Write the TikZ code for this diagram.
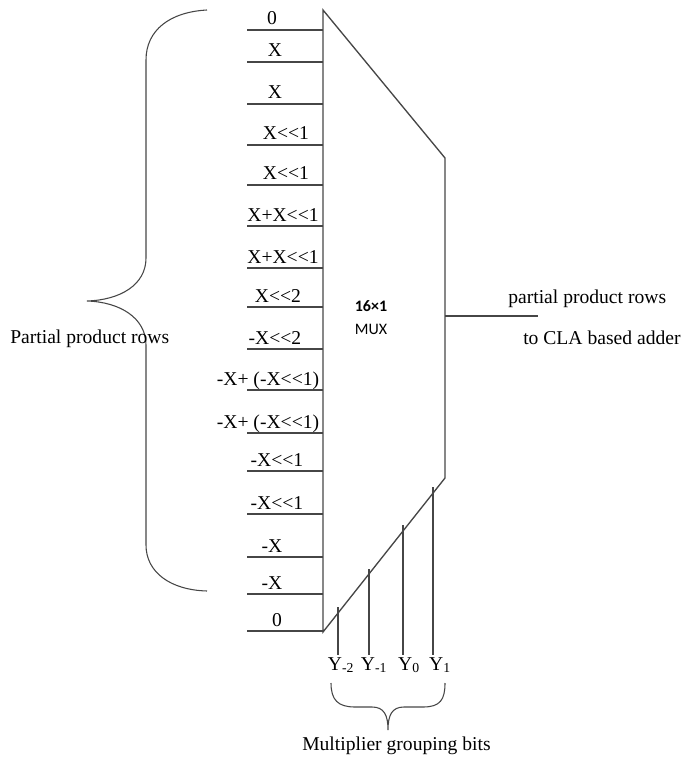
\documentclass[tikz,border=0pt]{standalone}
\usepackage{fontspec}
\setmainfont{Liberation Serif}
\newfontfamily\muxfont{Carlito}
\usepackage{tikz}
\usetikzlibrary{calc}
\definecolor{wiregray}{RGB}{70,70,70}

\begin{document}
\begin{tikzpicture}[x=0.75pt,y=-0.75pt,
        wire/.style={draw=wiregray,line width=1pt},
        bracepath/.style={draw=wiregray,line width=0.8pt},
        lbl/.style={anchor=base,inner sep=0pt,font=\fontsize{14.7}{17}\selectfont},
        sidetext/.style={anchor=base west,inner sep=0pt,font=\fontsize{14.7}{17}\selectfont}]
    \useasboundingbox (0,0) rectangle (684,759);

    % mux body
    \coordinate (muxtl) at (323,10);
    \coordinate (muxtr) at (445,158);
    \coordinate (muxbr) at (445,478);
    \coordinate (muxbl) at (323,632);
    \draw[wire] (muxtl) -- (muxtr) -- (muxbr) -- (muxbl) -- cycle;
    \node[font=\muxfont\bfseries\fontsize{12}{14}\selectfont] (muxsize) at (371,306) {16×1};
    \node[font=\muxfont\fontsize{12}{14}\selectfont] (muxname) at (371,329) {MUX};

    % partial product inputs
    \foreach \i/\yy/\xx/\txt in {1/30/272/0, 2/62/275/X, 3/104/275/X, 4/145/286/X<{}<1,
            5/185/286/X<{}<1, 6/226/283/X+X<{}<1, 7/268/283/X+X<{}<1, 8/307/278/X<{}<2,
            9/349/275/-X<{}<2, 10/390/268/{-X+ (-X<{}<1)}, 11/433/268/{-X+ (-X<{}<1)},
            12/471/277/-X<{}<1, 13/514/277/-X<{}<1, 14/557/272/-X, 15/594/272/-X, 16/631/277/0} {
        \coordinate (in\i) at (247,\yy);
        \coordinate (mx\i) at (323,\yy);
        \draw[wire] (in\i) -- (mx\i);
        \node[lbl] (row\i) at (\xx,\yy-5) {\txt};
    }

    % output
    \coordinate (muxout) at (445,316);
    \coordinate (outend) at (538,316);
    \draw[wire] (muxout) -- (outend);
    \node[sidetext] (outtop) at (508,303) {partial product rows};
    \node[sidetext] (outbot) at (523,344) {to CLA based adder};

    % select bits
    \foreach \i/\xx/\yy/\xl/\subtxt in {1/338/607/341/-2, 2/369/569/374/-1, 3/403/525/409/0, 4/433/487/440/1} {
        \coordinate (seltop\i) at (\xx,\yy);
        \coordinate (selbot\i) at (\xx,655);
        \draw[wire] (seltop\i) -- (selbot\i);
        \node[lbl] (sel\i) at (\xl,670) {Y\textsubscript{\subtxt}};
    }

    % braces
    \draw[bracepath] (207,10) .. controls (170,12) and (146,30) .. (146,60)
        -- (146,258) .. controls (146,285) and (120,300) .. (87,301)
        .. controls (120,302) and (146,318) .. (146,345)
        -- (146,545) .. controls (146,572) and (170,590) .. (207,591);
    \node[sidetext] (rowstext) at (10,343) {Partial product rows};

    \draw[bracepath] (331,683) .. controls (331,700) and (338,707) .. (355,707)
        -- (372,707) .. controls (384,707) and (388,715) .. (388,730)
        .. controls (388,715) and (392,707) .. (404,707)
        -- (423,707) .. controls (440,707) and (445,700) .. (445,683);
    \node[sidetext] (bitstext) at (302,750) {Multiplier grouping bits};
\end{tikzpicture}
\end{document}
